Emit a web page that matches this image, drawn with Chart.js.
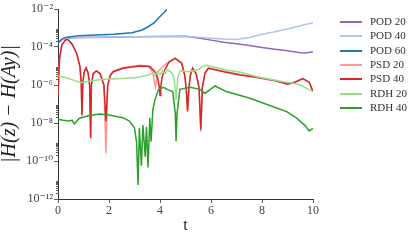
<!DOCTYPE html>
<html>
<head>
<meta charset="utf-8">
<script src="https://cdn.jsdelivr.net/npm/chart.js@4.4.1/dist/chart.umd.min.js"></script>
<style>
  html, body { margin: 0; padding: 0; background: #fff; }
  #wrap { position: relative; width: 415px; height: 240px; }
  #c { position: absolute; left: 0; top: 0; }
  .lg { position: absolute; left: 340px; font: 11px "Liberation Serif", "DejaVu Serif", serif; color: #333; white-space: nowrap; }
  .lg span.sw { position: absolute; left: 0; top: 0; width: 22px; height: 2px; }
  .lg span.tx { position: absolute; left: 30px; top: -7px; line-height: 14px; }
</style>
</head>
<body>
<div id="wrap">
  <canvas id="c" width="415" height="240"></canvas>
  <div id="legend"></div>
</div>
<script>
// ---- data ----
const seriesNames = ['POD 20', 'POD 40', 'POD 60', 'PSD 20', 'PSD 40', 'RDH 20', 'RDH 40'];
const seriesColors = ['#9467bd', '#aec7e8', '#1f77b4', '#ff9896', '#d62728', '#98df8a', '#2ca02c'];

const pod20T = [0, 0.15, 0.3, 1, 2, 3, 4, 5, 5.5, 6, 6.5, 7, 7.5, 8, 8.5, 9, 9.5, 9.7, 10];
const pod20V = [1.6e-4, 2.4e-4, 3.0e-4, 3.2e-4, 3.3e-4, 3.5e-4, 3.6e-4, 3.7e-4, 3.0e-4, 2.3e-4, 1.8e-4, 1.5e-4, 1.2e-4, 9.3e-5, 7.6e-5, 6.3e-5, 5.0e-5, 4.8e-5, 5.6e-5];

const pod40T = [0, 0.15, 0.3, 1, 2, 3, 4, 5, 5.5, 6, 6.5, 7, 7.5, 8, 8.5, 9, 9.5, 10];
const pod40V = [1.6e-4, 2.4e-4, 3.0e-4, 3.3e-4, 3.4e-4, 3.5e-4, 3.6e-4, 3.7e-4, 3.3e-4, 2.9e-4, 2.6e-4, 2.5e-4, 3.2e-4, 4.7e-4, 6.3e-4, 8.9e-4, 1.3e-3, 1.9e-3];

const pod60T = [0, 0.15, 0.3, 0.8, 1.5, 2.2, 2.9, 3.3, 3.55, 3.75, 4.0, 4.15, 4.26];
const pod60V = [1.6e-4, 2.6e-4, 3.2e-4, 3.9e-4, 4.3e-4, 4.7e-4, 5.6e-4, 7.9e-4, 1.2e-3, 1.8e-3, 4.0e-3, 6.3e-3, 9.5e-3];

const psd20T = [0, 0.06, 0.15, 0.3, 0.4, 0.55, 0.73, 0.86, 0.91, 0.94, 0.97, 1.02, 1.1, 1.18, 1.24, 1.28, 1.31, 1.38, 1.5, 1.65, 1.8, 1.88, 1.95, 2.05, 2.17, 2.56, 3.2, 3.55, 3.72, 3.82, 3.92, 4.2, 4.59, 4.85, 4.97, 5.03, 5.08, 5.13, 5.19, 5.28, 5.42, 5.53, 5.6, 5.66, 5.76, 5.9, 6.5, 7.14, 7.8, 8.4, 9.0, 9.3, 9.6, 9.85, 10];
const psd20V = [3.2e-7, 2.5e-5, 1.3e-4, 2.5e-4, 2.5e-4, 1.4e-4, 4.7e-5, 9.3e-6, 1.4e-6, 3.0e-8, 1.0e-6, 4.5e-6, 7.9e-6, 4.5e-6, 1.0e-6, 2.0e-9, 1.0e-6, 4.0e-6, 5.5e-6, 4.0e-6, 1.0e-6, 2.6e-10, 1.0e-6, 3.2e-6, 5.5e-6, 8.3e-6, 1.1e-5, 1.0e-5, 4.5e-6, 8.0e-7, 5.0e-6, 1.2e-5, 2.6e-5, 1.5e-5, 3.5e-6, 6.3e-7, 5.0e-8, 6.3e-7, 3.5e-6, 7.9e-6, 4.0e-6, 8.0e-7, 3.5e-9, 8.0e-7, 4.5e-6, 8.0e-6, 5.3e-6, 3.6e-6, 2.7e-6, 1.9e-6, 1.2e-6, 1.5e-6, 2.2e-6, 1.4e-6, 4.5e-7];

const psd40T = [0, 0.06, 0.15, 0.3, 0.4, 0.55, 0.73, 0.86, 0.91, 0.94, 0.97, 1.02, 1.1, 1.18, 1.24, 1.28, 1.31, 1.38, 1.5, 1.65, 1.8, 1.88, 1.95, 2.05, 2.17, 2.56, 3.2, 3.6, 3.8, 3.92, 3.97, 4.0, 4.03, 4.08, 4.15, 4.35, 4.59, 4.85, 4.97, 5.03, 5.08, 5.13, 5.19, 5.28, 5.42, 5.53, 5.6, 5.66, 5.76, 5.9, 6.5, 7.14, 7.8, 8.4, 9.0, 9.3, 9.6, 9.85, 10];
const psd40V = [3.2e-7, 2.5e-5, 1.26e-4, 2.4e-4, 2.4e-4, 1.4e-4, 4.7e-5, 9.3e-6, 1.3e-6, 2.5e-8, 1.0e-6, 4.5e-6, 7.9e-6, 4.5e-6, 1.0e-6, 1.6e-9, 1.0e-6, 4.0e-6, 5.5e-6, 4.0e-6, 1.0e-6, 1.2e-8, 1.0e-6, 3.2e-6, 5.0e-6, 7.6e-6, 1.0e-5, 9.3e-6, 5.0e-6, 2.0e-6, 8.0e-7, 2.8e-7, 8.0e-7, 2.5e-6, 5.0e-6, 1.6e-5, 2.5e-5, 1.4e-5, 3.2e-6, 6.0e-7, 4.0e-8, 6.0e-7, 3.2e-6, 7.6e-6, 3.8e-6, 7.0e-7, 4.5e-9, 7.0e-7, 4.0e-6, 7.6e-6, 5.0e-6, 3.4e-6, 2.5e-6, 1.8e-6, 1.1e-6, 1.4e-6, 2.2e-6, 1.4e-6, 4.5e-7];

const rdh20T = [0, 0.3, 0.6, 0.93, 1.3, 1.84, 2.5, 3.1, 3.5, 3.7, 3.8, 3.9, 4.0, 4.1, 4.2, 4.3, 4.45, 4.55, 4.63, 4.7, 4.8, 5.1, 5.5, 5.7, 5.83, 6.1, 6.6, 7.2, 7.8, 8.3, 8.83, 9.2, 9.5, 9.8, 10];
const rdh20V = [2.95e-6, 2.5e-6, 1.8e-6, 1.3e-6, 1.66e-6, 2.0e-6, 2.2e-6, 2.5e-6, 3.2e-6, 4.1e-6, 3.2e-6, 5.0e-6, 3.5e-6, 5.6e-6, 4.0e-6, 6.3e-6, 4.5e-6, 2.5e-6, 1.6e-7, 2.5e-6, 5.6e-6, 5.0e-6, 6.3e-6, 1.0e-5, 1.1e-5, 8.9e-6, 6.2e-6, 4.5e-6, 2.75e-6, 2.0e-6, 1.5e-6, 1.26e-6, 1.0e-6, 6.3e-7, 4.5e-7];

const rdh40T = [0, 0.2, 0.44, 0.55, 0.64, 0.84, 1.23, 1.62, 2.0, 2.54, 2.8, 3.0, 3.08, 3.14, 3.19, 3.27, 3.33, 3.42, 3.47, 3.53, 3.6, 3.65, 3.72, 3.8, 3.93, 4.13, 4.33, 4.5, 4.6, 4.63, 4.67, 4.78, 5.18, 5.57, 5.76, 6.16, 6.6, 7.53, 8.44, 8.97, 9.36, 9.7, 9.85, 10];
const rdh40V = [1.6e-8, 1.4e-8, 1.26e-8, 1.4e-8, 8.9e-9, 1.8e-8, 2.45e-8, 2.95e-8, 2.6e-8, 1.9e-8, 1.26e-8, 5.5e-9, 1.0e-9, 5.5e-12, 5.5e-9, 5.6e-11, 7.9e-9, 1.7e-10, 6.3e-9, 4.5e-11, 1.8e-8, 1.05e-9, 5.0e-8, 1.6e-7, 5.5e-7, 7.6e-7, 5.5e-7, 4.5e-7, 3.2e-8, 1.1e-9, 3.2e-8, 5.9e-7, 7.6e-7, 5.9e-7, 3.6e-7, 8.9e-7, 4.5e-7, 2.0e-7, 7.2e-8, 4.0e-8, 1.8e-8, 7.1e-9, 3.8e-9, 5.2e-9];

const xTicks = [0, 2, 4, 6, 8, 10];
const yTicks = [1e-12, 1e-10, 1e-8, 1e-6, 1e-4, 1e-2];
const yTickLabels = ['10\u207B\u00B9\u00B2', '10\u207B\u00B9\u2070', '10\u207B\u2078', '10\u207B\u2076', '10\u207B\u2074', '10\u207B\u00B2'];
const yMinorDecades = [1e-12, 1e-10, 1e-8, 1e-6, 1e-4];
const yMinorMultipliers = [2, 3, 4, 5, 6, 7, 8, 9];
const xTitle = 't';
const yTitle = '|H(z) \u2212 H(Ay)|';

// ---- build chart ----
const allT = [pod20T, pod40T, pod60T, psd20T, psd40T, rdh20T, rdh40T];
const allV = [pod20V, pod40V, pod60V, psd20V, psd40V, rdh20V, rdh40V];

const datasets = seriesNames.map((name, i) => ({
  label: name,
  data: allT[i].map((t, j) => ({ x: t, y: allV[i][j] })),
  borderColor: seriesColors[i],
  backgroundColor: seriesColors[i],
  borderWidth: 1.5,
  pointRadius: 0,
  tension: 0,
  fill: false,
  order: seriesNames.length - i
}));

const axisColor = '#333';
const tickFont = { family: '"Liberation Serif", "DejaVu Serif", serif', size: 12 };

const minorTicks = {
  id: 'minorTicks',
  afterDraw(chart) {
    const y = chart.scales.y;
    const ctx = chart.ctx;
    ctx.save();
    ctx.strokeStyle = axisColor;
    ctx.lineWidth = 0.8;
    yMinorDecades.forEach(d => {
      yMinorMultipliers.forEach(m => {
        const py = Math.round(y.getPixelForValue(d * m)) + 0.5;
        ctx.beginPath();
        ctx.moveTo(y.right - 2, py);
        ctx.lineTo(y.right, py);
        ctx.stroke();
      });
    });
    ctx.restore();
  }
};

new Chart(document.getElementById('c'), {
  type: 'line',
  data: { datasets },
  plugins: [minorTicks],
  options: {
    responsive: false,
    animation: false,
    devicePixelRatio: 1,
    layout: { padding: { left: 0, right: 102, top: 9, bottom: 0 } },
    plugins: { legend: { display: false }, tooltip: { enabled: false } },
    scales: {
      x: {
        type: 'linear',
        min: 0, max: 10,
        afterBuildTicks: s => { s.ticks = xTicks.map(v => ({ value: v })); },
        afterFit: s => { s.height = 41; },
        ticks: { font: tickFont, color: '#444', padding: 1, maxRotation: 0, autoSkip: false },
        grid: { display: true, drawOnChartArea: false, drawTicks: true, tickLength: 4, tickColor: axisColor, tickWidth: 0.8 },
        border: { display: true, color: axisColor, width: 1 },
        title: { display: true, text: xTitle, color: '#222', font: { family: '"Liberation Serif", serif', size: 16, lineHeight: 1.2 }, padding: { top: 0, bottom: 5 } }
      },
      y: {
        type: 'logarithmic',
        min: 1e-12, max: 1e-2,
        afterBuildTicks: s => { s.ticks = yTicks.map(v => ({ value: v, major: true })); },
        afterFit: s => { s.width = 58; },
        ticks: {
          font: tickFont, color: '#444', padding: 1, autoSkip: false,
          callback: (v, i) => yTickLabels[i]
        },
        grid: { display: true, drawOnChartArea: false, drawTicks: true, tickLength: 4, tickColor: axisColor, tickWidth: 0.8 },
        border: { display: true, color: axisColor, width: 1 },
        title: { display: true, text: yTitle, color: '#222', font: { family: '"Liberation Serif", serif', size: 20, style: 'italic', lineHeight: 1.0 }, padding: { top: 0, bottom: 0 } }
      }
    }
  }
});

// ---- HTML legend ----
const legendTop = [22, 36, 51, 65, 79, 94, 108];
const lg = document.getElementById('legend');
seriesNames.forEach((name, i) => {
  const d = document.createElement('div');
  d.className = 'lg';
  d.style.top = (legendTop[i] - 1) + 'px';
  d.innerHTML = '<span class="sw" style="background:' + seriesColors[i] + '"></span><span class="tx">' + name + '</span>';
  lg.appendChild(d);
});
</script>
</body>
</html>
